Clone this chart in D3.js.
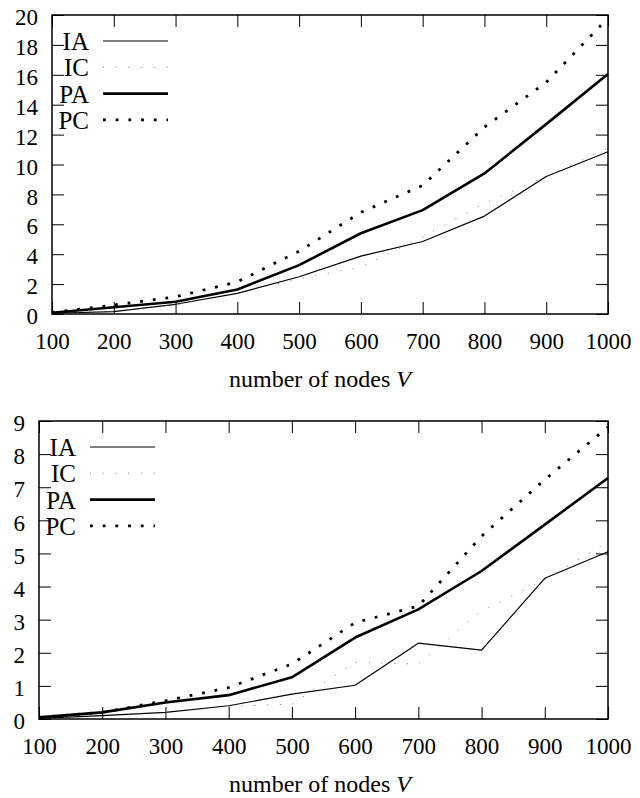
<!DOCTYPE html>
<html>
<head>
<meta charset="utf-8">
<script src="https://cdn.jsdelivr.net/npm/d3@7"></script>
<style>
  body { margin: 0; background: white; }
  text { font-family: "Liberation Serif", "Times New Roman", serif; fill: black; }
</style>
</head>
<body>
<div id="container"></div>
<script>
// canvas size
let w = 640;
let h = 798;

// x values (number of nodes V)
let nodes = [100, 200, 300, 400, 500, 600, 700, 800, 900, 1000];
let seriesNames = ["IA", "IC", "PA", "PC"];

// top chart values
let topIA = [0.05, 0.16, 0.65, 1.38, 2.49, 3.87, 4.85, 6.55, 9.2, 10.85];
let topIC = [0.05, 0.2, 0.62, 1.4, 2.35, 3.15, 5.15, 7.4, 9.2, 11.1];
let topPA = [0.08, 0.45, 0.82, 1.64, 3.27, 5.4, 6.95, 9.4, 12.7, 16.05];
let topPC = [0.1, 0.6, 1.15, 2.15, 4.2, 6.8, 8.6, 12.5, 15.5, 19.8];
let topYTicks = [0, 2, 4, 6, 8, 10, 12, 14, 16, 18, 20];

// bottom chart values
let botIA = [0.02, 0.1, 0.2, 0.4, 0.75, 1.02, 2.29, 2.08, 4.25, 5.05];
let botIC = [0.02, 0.08, 0.2, 0.38, 0.45, 1.71, 1.66, 3.26, 4.2, 5.35];
let botPA = [0.05, 0.2, 0.5, 0.72, 1.26, 2.46, 3.31, 4.47, 5.87, 7.28];
let botPC = [0.05, 0.2, 0.55, 0.95, 1.66, 2.91, 3.41, 5.52, 7.23, 8.82];
let botYTicks = [0, 1, 2, 3, 4, 5, 6, 7, 8, 9];

let xLabel = "number of nodes ";
let xLabelVar = "V";

// line style per series
let styles = {
  IA: { width: 1.2, color: "#000", dash: null },
  IC: { width: 1, color: "#777", dash: "1,11.7" },
  PA: { width: 2.6, color: "#000", dash: null },
  PC: { width: 2.8, color: "#000", dash: "2.8,9.9" }
};

let viz = d3.select("#container")
  .append("svg")
    .attr("width", w)
    .attr("height", h)
    .style("background-color", "white");

function drawChart(box, yMax, yTicks, values) {
  let x = d3.scaleLinear().domain([100, 1000]).range([box.left, box.right]);
  let y = d3.scaleLinear().domain([0, yMax]).range([box.bottom, box.top]);
  let g = viz.append("g");

  // bottom axis with labels, ticks pointing in
  let xb = g.append("g")
    .attr("transform", "translate(0," + box.bottom + ")")
    .call(d3.axisBottom(x).tickValues(nodes).tickSize(-12).tickFormat(d3.format("d")));
  xb.selectAll("text").attr("dy", null).attr("y", 35);

  // mirrored top ticks
  g.append("g")
    .attr("transform", "translate(0," + box.top + ")")
    .call(d3.axisTop(x).tickValues(nodes).tickSize(-12).tickFormat(""));

  let yl = g.append("g")
    .attr("transform", "translate(" + box.left + ",0)")
    .call(d3.axisLeft(y).tickValues(yTicks).tickSize(-12).tickPadding(14));
  yl.selectAll("text").attr("dy", "0.42em");

  g.append("g")
    .attr("transform", "translate(" + box.right + ",0)")
    .call(d3.axisRight(y).tickValues(yTicks).tickSize(-12).tickFormat(""));

  g.selectAll(".domain").remove();
  g.selectAll(".tick line").attr("stroke", "#000").attr("stroke-width", 1);
  g.selectAll(".tick text")
    .style("font-family", "'Liberation Serif', 'Times New Roman', serif")
    .style("font-size", "23px")
    .attr("fill", "#000");

  // frame
  g.append("rect")
    .attr("x", box.left)
    .attr("y", box.top)
    .attr("width", box.right - box.left)
    .attr("height", box.bottom - box.top)
    .attr("fill", "none")
    .attr("stroke", "#000")
    .attr("stroke-width", 1.5);

  let line = d3.line()
    .x(function(d, i) { return x(nodes[i]); })
    .y(function(d) { return y(d); });

  seriesNames.forEach(function(name, k) {
    let s = styles[name];
    g.append("path")
      .datum(values[k])
      .attr("d", line)
      .attr("fill", "none")
      .attr("stroke", s.color)
      .attr("stroke-width", s.width)
      .attr("stroke-dasharray", s.dash)
      .attr("stroke-linejoin", "round");

    // legend row
    let ly = box.top + 26 + k * 26.3;
    g.append("text")
      .attr("x", box.left + 37)
      .attr("y", ly + 9)
      .attr("text-anchor", "end")
      .style("font-size", "25px")
      .text(name);
    g.append("line")
      .attr("x1", box.left + 51)
      .attr("x2", box.left + 116)
      .attr("y1", ly)
      .attr("y2", ly)
      .attr("stroke", s.color)
      .attr("stroke-width", s.width)
      .attr("stroke-dasharray", s.dash);
  });

  let t = g.append("text")
    .attr("x", 320)
    .attr("y", box.bottom + 73)
    .attr("text-anchor", "middle")
    .style("font-size", "24px")
    .text(xLabel);
  t.append("tspan").style("font-style", "italic").text(xLabelVar);
}

drawChart({ left: 52, right: 608, top: 15, bottom: 314 }, 20, topYTicks, [topIA, topIC, topPA, topPC]);
drawChart({ left: 39, right: 608, top: 421, bottom: 719 }, 9, botYTicks, [botIA, botIC, botPA, botPC]);
</script>
</body>
</html>
